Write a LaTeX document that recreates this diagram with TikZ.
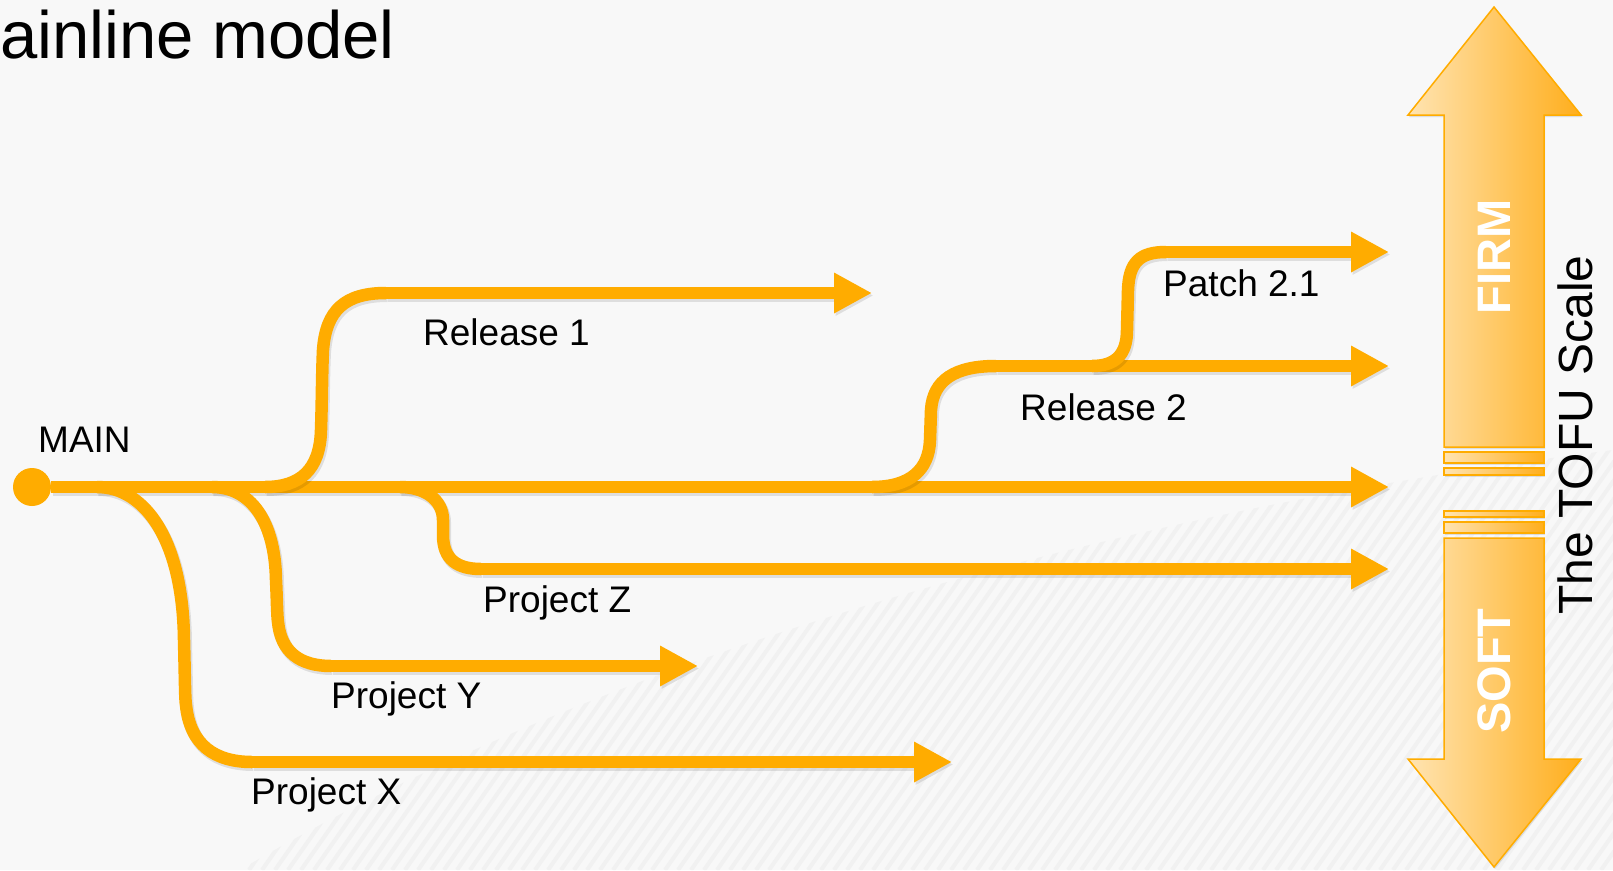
\documentclass[tikz,border=0pt]{standalone}
\usepackage{fontspec}
\setmainfont{Liberation Sans}
\usetikzlibrary{arrows.meta,shadows}
\definecolor{lineor}{RGB}{255,172,0}
\definecolor{bgc}{RGB}{248,248,248}
\definecolor{stripec}{RGB}{241,241,241}
\definecolor{arlight}{RGB}{255,228,178}
\definecolor{ardark}{RGB}{255,174,28}
\begin{document}
\begin{tikzpicture}[x=1pt,y=-1pt,
  branch/.style={draw=lineor, line width=12.5pt,
    preaction={draw=black, opacity=0.10, line width=13pt, transform canvas={xshift=1.5pt,yshift=-2.5pt}}},
  arrowline/.style={branch, -{Triangle[length=38pt,width=38pt]}},
  lbl/.style={font=\fontsize{37}{44}\selectfont, anchor=base west, inner sep=0pt, text=black},
  vlbl/.style={rotate=90, inner sep=0pt, font=\fontsize{47}{56}\selectfont\bfseries, text=white},
  bigarrow/.style={draw=lineor, line width=1.5pt, left color=arlight, right color=ardark,
    drop shadow={shadow xshift=1pt,shadow yshift=-2pt,opacity=0.22}},
]
\useasboundingbox (0,0) rectangle (1613,870);
\fill[bgc] (0,0) rectangle (1613,870);
\begin{scope}
  \clip (240,870) .. controls (560,680) and (1050,520) .. (1613,450) -- (1613,870) -- cycle;
  \foreach \i in {-700,-687,...,1613} \draw[stripec, line width=4pt] (\i,870) -- ++(700,-1000);
\end{scope}

% title
\node[anchor=base west, inner sep=0pt, font=\fontsize{67}{80}\selectfont] (title) at (0,58) {ainline model};

% coordinates
\coordinate (mainend) at (1389,487);
\coordinate (xA) at (97,487);   \coordinate (xB) at (252,762);  \coordinate (xE) at (952,762);
\coordinate (yA) at (212,487);  \coordinate (yB) at (331,666);  \coordinate (yE) at (698,666);
\coordinate (r1A) at (265,487); \coordinate (r1B) at (386,293); \coordinate (r1E) at (872,293);
\coordinate (zA) at (400,487);  \coordinate (zB) at (481,569);  \coordinate (zE) at (1389,569);
\coordinate (r2A) at (872,487); \coordinate (r2B) at (996,366); \coordinate (r2E) at (1389,366);
\coordinate (pA) at (1092,366); \coordinate (pB) at (1166,252); \coordinate (pE) at (1389,252);

% main line
\node[circle, fill=lineor, minimum size=38pt, inner sep=0pt] (start) at (32,487) {};
\draw[arrowline] (start) -- (mainend);

% Project X
\draw[branch] (xA) .. controls (145,487) and (183,540) .. (184,640) .. controls (185,680) and (185,700) .. (186,705) .. controls (190,745) and (215,762) .. (xB);
\draw[arrowline] (xB) -- (xE);
% Project Y
\draw[branch] (yA) .. controls (250,487) and (275,520) .. (276,580) .. controls (277,600) and (277,615) .. (278,622) .. controls (281,652) and (300,666) .. (yB);
\draw[arrowline] (yB) -- (yE);
% Release 1
\draw[branch] (r1A) .. controls (300,487) and (320,470) .. (321,430) .. controls (322,400) and (322,370) .. (323,350) .. controls (326,310) and (345,293) .. (r1B);
\draw[arrowline] (r1B) -- (r1E);
% Project Z
\draw[branch] (zA) .. controls (425,487) and (443,500) .. (443,520) -- (443,535) .. controls (443,560) and (458,569) .. (zB);
\draw[arrowline] (zB) -- (zE);
% Release 2
\draw[branch] (r2A) .. controls (910,487) and (929,470) .. (930,440) -- (931,410) .. controls (933,380) and (955,366) .. (r2B);
\draw[arrowline] (r2B) -- (r2E);
% Patch 2.1
\draw[branch] (pA) .. controls (1115,366) and (1127,355) .. (1127,330) -- (1128,290) .. controls (1129,262) and (1140,252) .. (pB);
\draw[arrowline] (pB) -- (pE);

% labels
\node[lbl] (lmain) at (38,452) {MAIN};
\node[lbl] (lr1) at (423,345) {Release 1};
\node[lbl] (lr2) at (1020,420) {Release 2};
\node[lbl] (lp) at (1163,296) {Patch 2.1};
\node[lbl] (lz) at (483,612) {Project Z};
\node[lbl] (ly) at (331,708) {Project Y};
\node[lbl] (lx) at (251,804) {Project X};

% TOFU scale arrow
\path[bigarrow] (1494,7) -- (1581,115) -- (1544,115) -- (1544,447) -- (1444,447) -- (1444,115) -- (1408,115) -- cycle;
\path[bigarrow] (1444,452) rectangle (1544,463);
\path[bigarrow] (1444,468) rectangle (1544,475);
\path[bigarrow] (1444,511) rectangle (1544,517);
\path[bigarrow] (1444,522) rectangle (1544,533);
\path[bigarrow] (1444,538) -- (1544,538) -- (1544,759) -- (1581,759) -- (1494,867) -- (1408,759) -- (1444,759) -- cycle;
\node[vlbl] (firm) at (1494,257) {FIRM};
\node[vlbl] (soft) at (1494,671) {SOFT};
\node[rotate=90, inner sep=0pt, font=\fontsize{48}{58}\selectfont, text=black] (tofu) at (1575,435) {The TOFU Scale};
\end{tikzpicture}
\end{document}
